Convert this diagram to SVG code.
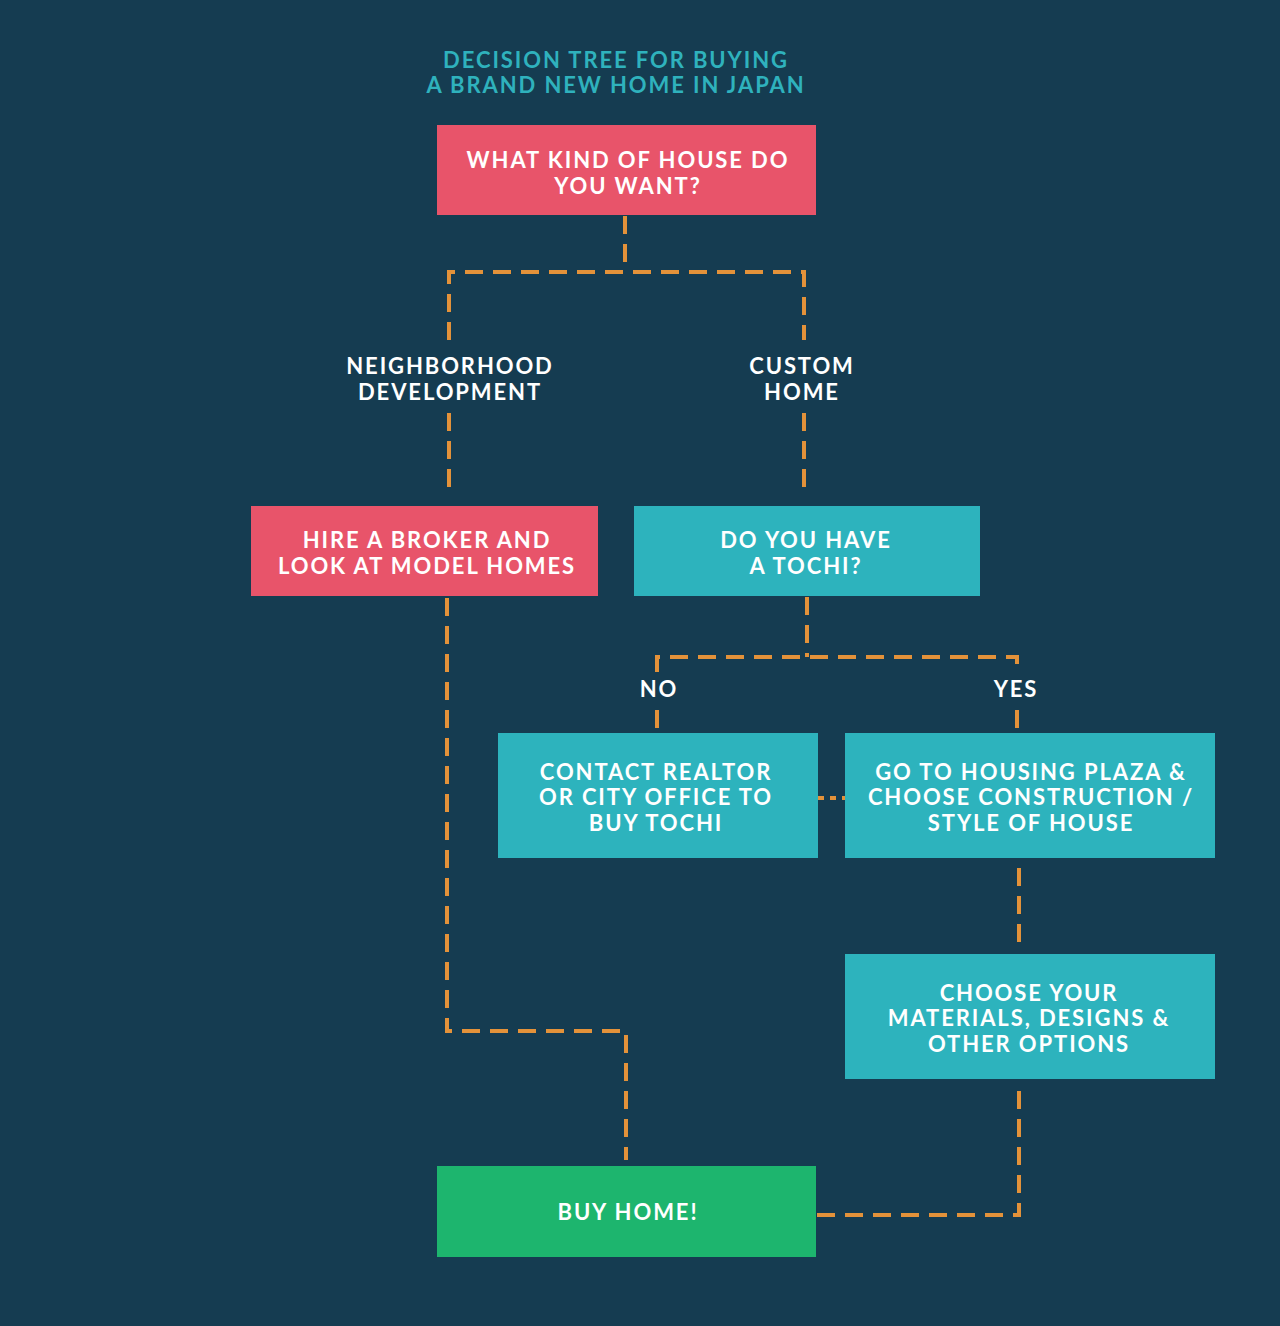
<svg xmlns="http://www.w3.org/2000/svg" width="1280" height="1326" viewBox="0 0 1280 1326">
<style>
.t{font-family:Lato,"Liberation Sans",sans-serif;font-weight:700;font-size:22px;fill:#ffffff;text-anchor:middle;letter-spacing:1.9px}
.title{fill:#2fb2bd}
.red{fill:#e8546a}
.teal{fill:#2db3bd}
.green{fill:#1db56e}
.c{fill:none;stroke:#e3923a;stroke-width:4;stroke-dasharray:18 10}
</style>
<rect width="1280" height="1326" fill="#153c51"/>
<g id="title">
<text class="t title" x="616" y="68">DECISION TREE FOR BUYING</text>
<text class="t title" x="616" y="93">A BRAND NEW HOME IN JAPAN</text>
</g>
<g id="connectors">
<path class="c" d="M625 216 V272"/>
<path class="c" d="M449 340 V272 H804 V340"/>
<path class="c" d="M449 413 V490"/>
<path class="c" d="M804 413 V490"/>
<path class="c" d="M807 597 V657"/>
<path class="c" d="M657 672 V657 H1017 V672"/>
<path class="c" d="M657 710 V733"/>
<path class="c" d="M1017 710 V733"/>
<path class="c" d="M818 798 H845" style="stroke-dasharray:6 6"/>
<path class="c" d="M1019 868 V950"/>
<path class="c" d="M817 1215 H1019 V1083"/>
<path class="c" d="M447 598 V1031 H626 V1160"/>
</g>
<g id="q1">
<rect class="red" x="437" y="125" width="379" height="90"/>
<text class="t" x="628" y="168">WHAT KIND OF HOUSE DO</text>
<text class="t" x="628" y="194">YOU WANT?</text>
</g>
<g id="label-neighborhood">
<text class="t" x="450" y="374">NEIGHBORHOOD</text>
<text class="t" x="450" y="400">DEVELOPMENT</text>
</g>
<g id="label-custom">
<text class="t" x="802" y="374">CUSTOM</text>
<text class="t" x="802" y="400">HOME</text>
</g>
<g id="broker">
<rect class="red" x="251" y="506" width="347" height="90"/>
<text class="t" x="427" y="548">HIRE A BROKER AND</text>
<text class="t" x="427" y="574">LOOK AT MODEL HOMES</text>
</g>
<g id="tochi">
<rect class="teal" x="634" y="506" width="346" height="90"/>
<text class="t" x="806" y="548">DO YOU HAVE</text>
<text class="t" x="806" y="574">A TOCHI?</text>
</g>
<g id="label-no"><text class="t" x="659" y="697">NO</text></g>
<g id="label-yes"><text class="t" x="1016" y="697">YES</text></g>
<g id="realtor">
<rect class="teal" x="498" y="733" width="320" height="125"/>
<text class="t" x="656" y="780">CONTACT REALTOR</text>
<text class="t" x="656" y="805">OR CITY OFFICE TO</text>
<text class="t" x="656" y="831">BUY TOCHI</text>
</g>
<g id="plaza">
<rect class="teal" x="845" y="733" width="370" height="125"/>
<text class="t" x="1031" y="780">GO TO HOUSING PLAZA &amp;</text>
<text class="t" x="1031" y="805">CHOOSE CONSTRUCTION /</text>
<text class="t" x="1031" y="831">STYLE OF HOUSE</text>
</g>
<g id="materials">
<rect class="teal" x="845" y="954" width="370" height="125"/>
<text class="t" x="1029" y="1001">CHOOSE YOUR</text>
<text class="t" x="1029" y="1026">MATERIALS, DESIGNS &amp;</text>
<text class="t" x="1029" y="1052">OTHER OPTIONS</text>
</g>
<g id="buy">
<rect class="green" x="437" y="1166" width="379" height="91"/>
<text class="t" x="628" y="1220">BUY HOME!</text>
</g>
</svg>
